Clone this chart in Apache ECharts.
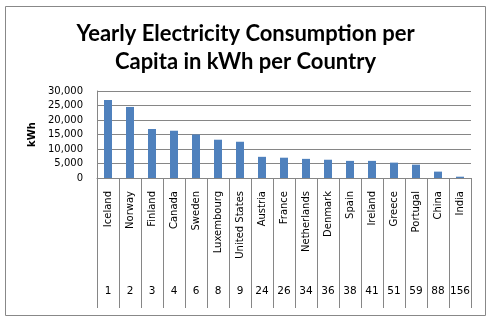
<!DOCTYPE html>
<html>
<head>
<meta charset="utf-8">
<script src="https://cdn.jsdelivr.net/npm/echarts@6/dist/echarts.min.js"></script>
<style>
  html, body { margin: 0; padding: 0; background: #fff; }
  #chart { width: 491px; height: 321px; }
</style>
</head>
<body>
<div id="chart"></div>
<script>
// Countries ordered by consumption, with their world rank
const countries = ['Iceland', 'Norway', 'Finland', 'Canada', 'Sweden', 'Luxembourg', 'United States',
  'Austria', 'France', 'Netherlands', 'Denmark', 'Spain', 'Ireland', 'Greece', 'Portugal', 'China', 'India'];
const ranks = ['1', '2', '3', '4', '6', '8', '9', '24', '26', '34', '36', '38', '41', '51', '59', '88', '156'];
// Yearly electricity consumption per capita (kWh)
const kwhPerCapita = [26900, 24500, 16900, 16300, 15000, 13200, 12500,
  7300, 7000, 6600, 6300, 5900, 5900, 5300, 4600, 2200, 450];
const yTicks = { min: 0, max: 30000, interval: 5000 };

const gridColor = '#868686';
const font = 'DejaVu Sans';

const chart = echarts.init(document.getElementById('chart'), null, { renderer: 'canvas' });
chart.setOption({
  animation: false,
  backgroundColor: '#fff',
  title: {
    text: 'Yearly Electricity Consumption per\nCapita in kWh per Country',
    left: 'center',
    top: 15,
    textStyle: {
      fontFamily: 'Lato',
      fontWeight: 'bold',
      fontSize: 22,
      lineHeight: 28,
      color: '#000'
    }
  },
  graphic: [{
    type: 'rect',
    shape: { x: 5.5, y: 6.5, width: 480, height: 309 },
    style: { fill: 'none', stroke: '#888', lineWidth: 1 },
    silent: true
  }],
  grid: { left: 97, right: 20, top: 91, height: 87 },
  xAxis: [{
    type: 'category',
    data: countries,
    position: 'bottom',
    axisLine: { show: true, lineStyle: { color: gridColor } },
    axisTick: { show: true, length: 130, lineStyle: { color: gridColor } },
    axisLabel: {
      rotate: 90,
      interval: 0,
      margin: 13,
      fontFamily: font,
      fontSize: 10,
      color: '#000'
    }
  }, {
    type: 'category',
    data: ranks,
    position: 'bottom',
    offset: 100,
    axisLine: { show: false },
    axisTick: { show: false },
    axisLabel: {
      interval: 0,
      margin: 8,
      fontFamily: font,
      fontSize: 10.5,
      color: '#000'
    }
  }],
  yAxis: {
    type: 'value',
    min: yTicks.min,
    max: yTicks.max,
    interval: yTicks.interval,
    name: 'kWh',
    nameLocation: 'middle',
    nameGap: 60,
    nameRotate: 90,
    nameTextStyle: { fontFamily: font, fontWeight: 'bold', fontSize: 10, color: '#000' },
    axisLine: { show: true, lineStyle: { color: gridColor } },
    axisTick: { show: false },
    splitLine: { show: true, lineStyle: { color: gridColor, width: 1 } },
    axisLabel: {
      margin: 14,
      fontFamily: font,
      fontSize: 10,
      color: '#000',
      formatter: v => v.toLocaleString('en-US')
    }
  },
  series: [{
    type: 'bar',
    xAxisIndex: 0,
    data: kwhPerCapita,
    barWidth: 8,
    itemStyle: { color: '#4F81BD' }
  }]
});
</script>
</body>
</html>
